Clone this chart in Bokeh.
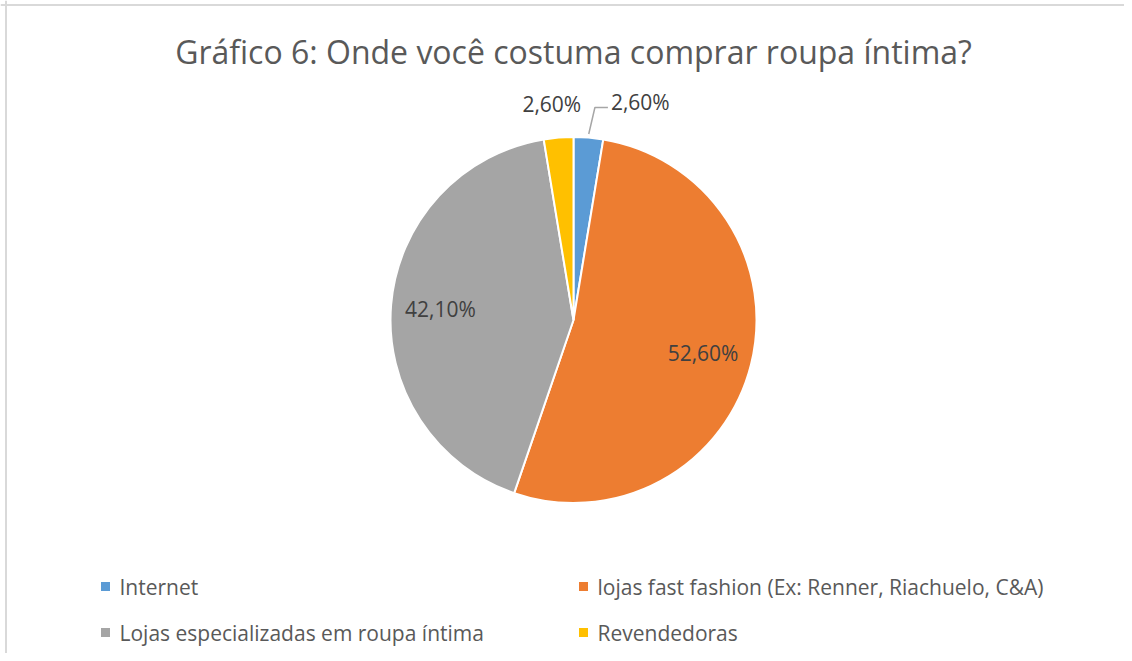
import math
from bokeh.plotting import figure
from bokeh.models import Range1d, Label, ColumnDataSource, Span
from bokeh.core.properties import value
from bokeh.embed import file_html
from bokeh.resources import INLINE

# ---- data ----
title = "Gráfico 6: Onde você costuma comprar roupa íntima?"
categories = ["Internet", "lojas fast fashion (Ex: Renner, Riachuelo, C&A)",
              "Lojas especializadas em roupa íntima", "Revendedoras"]
values = [2.6, 52.6, 42.1, 2.6]
labels = ["2,60%", "52,60%", "42,10%", "2,60%"]
colors = ["#5B9BD5", "#ED7D31", "#A5A5A5", "#FFC000"]

# ---- layout ----
W, H = 1124, 653
FONT = "Open Sans"
cx, cy, R = 573, -319.5, 183

p = figure(width=W, height=H, output_backend="svg", toolbar_location=None,
           x_range=Range1d(0, W), y_range=Range1d(-H, 0),
           min_border=0, outline_line_color=None)
p.axis.visible = False
p.grid.visible = False
p.background_fill_color = "white"
p.border_fill_color = "white"

# chart area border (left and top visible)
p.add_layout(Span(location=5.5, dimension="height", line_color="#D9D9D9", line_width=2))
p.add_layout(Span(location=-4.5, dimension="width", line_color="#D9D9D9", line_width=2))

# angles: start at 12 o'clock, clockwise
total = sum(values)
starts, ends, mids = [], [], []
acc = 0.0
for v in values:
    a0 = math.pi / 2 - 2 * math.pi * acc / total
    acc += v
    a1 = math.pi / 2 - 2 * math.pi * acc / total
    starts.append(a0)
    ends.append(a1)
    mids.append((a0 + a1) / 2)

src = ColumnDataSource(dict(x=[cx] * 4, y=[cy] * 4, start=starts, end=ends,
                            color=colors, cat=categories))
p.wedge(x="x", y="y", radius=R, start_angle="start", end_angle="end",
        direction="clock", fill_color="color", line_color="white",
        line_width=2, source=src)

# title
p.add_layout(Label(x=cx, y=-51, text=title, text_align="center",
                   text_baseline="middle", text_font=FONT,
                   text_font_size="32px", text_color="#595959"))

LAB_COL = "#404040"
LAB_SIZE = "21px"
# inside labels
for i in (1, 2):
    m = mids[i]
    r = 0.73 * R
    p.add_layout(Label(x=cx + r * math.cos(m), y=cy + r * math.sin(m),
                       text=labels[i], text_align="center", text_baseline="middle",
                       text_font=FONT, text_font_size=LAB_SIZE, text_color=LAB_COL))

# Revendedoras outside label
m = mids[3]
r = 1.185 * R
p.add_layout(Label(x=cx + r * math.cos(m) - 4, y=cy + r * math.sin(m),
                   text=labels[3], text_align="center", text_baseline="middle",
                   text_font=FONT, text_font_size=LAB_SIZE, text_color=LAB_COL))

# Internet outside label with leader line
m = mids[0]
sx, sy = cx + 1.02 * R * math.cos(m), cy + 1.02 * R * math.sin(m)
ex, ey = cx + 1.165 * R * math.cos(m) + 4, cy + 1.165 * R * math.sin(m)
p.line([sx, ex, ex + 13], [sy, ey, ey], line_color="#A6A6A6", line_width=1.5)
p.add_layout(Label(x=ex + 16, y=ey + 6, text=labels[0], text_align="left",
                   text_baseline="middle", text_font=FONT,
                   text_font_size=LAB_SIZE, text_color=LAB_COL))

# legend (2 columns, 2 rows)
leg_x = [105, 583, 105, 583]
leg_y = [-586, -586, -632, -632]
p.scatter(x=leg_x, y=leg_y, marker="square", size=9, fill_color=colors,
          line_color=None)
p.text(x=[x + 14 for x in leg_x], y=leg_y, text=categories,
       text_font=value(FONT), text_font_size="21px", text_color="#595959",
       text_align="left", text_baseline="middle")

open("out.html", "w").write(file_html(p, INLINE))
